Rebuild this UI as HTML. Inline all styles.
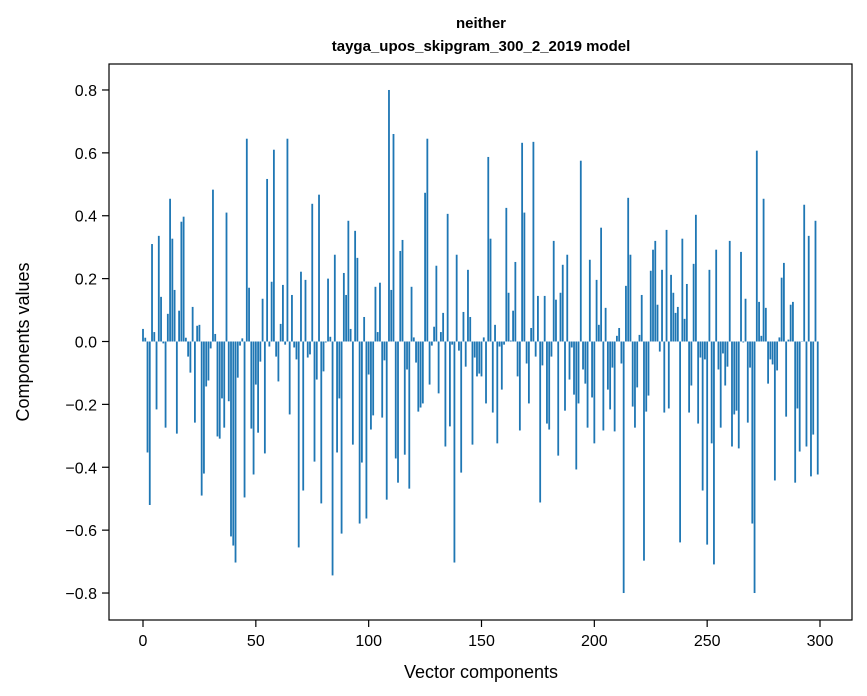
<!DOCTYPE html>
<html><head><meta charset="utf-8"><style>
body{margin:0;background:#fff;}
svg{display:block;font-family:"Liberation Sans","DejaVu Sans",sans-serif;}
</style></head><body>
<svg id="chart" width="867" height="696" viewBox="0 0 867 696">
<text x="481" y="28" text-anchor="middle" font-size="15" font-weight="bold">neither</text>
<text x="481" y="51" text-anchor="middle" font-size="15" font-weight="bold">tayga_upos_skipgram_300_2_2019 model</text>
<g id="bars"></g>
<g id="xticks"></g>
<g id="yticks"></g>
<rect x="109" y="64" width="743" height="556" fill="none" stroke="#000" stroke-width="1.2"/>
<text x="481" y="678" text-anchor="middle" font-size="18">Vector components</text>
<text transform="translate(29,342) rotate(-90)" text-anchor="middle" font-size="18">Components values</text>
</svg>
<script>
const values = [
0.04,0.012,-0.353,-0.52,0.31,0.03,-0.216,0.336,0.142,-0.006,
-0.274,0.088,0.454,0.327,0.164,-0.293,0.098,0.381,0.397,0.012,
-0.048,-0.099,0.11,-0.258,0.05,0.053,-0.49,-0.42,-0.143,-0.124,
-0.022,0.483,0.024,-0.302,-0.309,-0.181,-0.274,0.41,-0.19,-0.62,
-0.649,-0.703,-0.115,-0.013,0.01,-0.496,0.645,0.171,-0.277,-0.423,
-0.137,-0.29,-0.064,0.136,-0.356,0.517,-0.016,0.19,0.61,-0.048,
-0.127,0.056,0.18,-0.01,0.645,-0.232,0.148,-0.019,-0.057,-0.655,
0.222,-0.474,0.196,-0.051,-0.041,0.438,-0.382,-0.121,0.467,-0.515,
-0.095,-0.003,0.2,0.015,-0.744,0.276,-0.353,-0.181,-0.611,0.218,
0.148,0.384,0.04,-0.328,0.352,0.266,-0.579,-0.385,0.078,-0.563,
-0.105,-0.28,-0.235,0.174,0.03,0.187,-0.242,-0.06,-0.503,0.8,
0.164,0.66,-0.372,-0.449,0.288,0.323,-0.36,-0.089,-0.468,0.174,
0.013,-0.067,-0.223,-0.21,-0.197,0.473,0.645,-0.137,-0.013,0.047,
0.241,-0.165,0.03,0.091,-0.334,0.406,-0.27,-0.01,-0.703,0.276,
-0.029,-0.417,0.094,-0.08,0.228,0.078,-0.328,-0.051,-0.111,-0.102,
-0.111,0.013,-0.197,0.587,0.327,-0.226,0.053,-0.324,-0.016,-0.153,
-0.01,0.425,0.155,0.003,0.098,0.253,-0.111,-0.283,0.632,0.41,
-0.07,-0.197,0.043,0.635,-0.048,0.145,-0.512,-0.076,0.145,-0.261,
-0.28,-0.048,0.32,0.133,-0.363,0.155,0.244,-0.22,0.276,-0.121,
-0.019,-0.169,-0.407,-0.197,0.575,-0.089,-0.134,-0.274,0.26,-0.178,
-0.324,0.196,0.053,0.362,-0.283,0.107,-0.153,-0.216,-0.083,-0.286,
0.018,0.043,-0.07,-0.8,0.177,0.457,0.276,-0.207,-0.274,-0.146,
0.021,0.148,-0.697,-0.223,-0.172,0.225,0.292,0.32,0.117,-0.032,
0.228,-0.226,0.355,-0.213,0.212,0.155,0.091,0.11,-0.639,0.327,
0.072,0.183,-0.226,-0.14,0.247,0.403,-0.261,-0.051,-0.474,-0.057,
-0.646,0.228,-0.324,-0.709,0.292,-0.089,-0.274,-0.038,-0.14,-0.08,
0.32,-0.334,-0.232,-0.22,-0.34,0.285,-0.003,0.136,-0.258,-0.083,
-0.579,-0.8,0.607,0.126,0.018,0.454,0.107,-0.134,-0.057,-0.073,
-0.442,-0.092,0.013,0.203,0.25,-0.239,0.006,0.117,0.126,-0.449,
-0.213,-0.35,0.001,0.435,-0.334,0.336,-0.429,-0.296,0.384,-0.423
];
const xTicks = [0,50,100,150,200,250,300];
const yTicks = [-0.8,-0.6,-0.4,-0.2,0.0,0.2,0.4,0.6,0.8];
const yTickLabels = ["\u22120.8","\u22120.6","\u22120.4","\u22120.2","0.0","0.2","0.4","0.6","0.8"];

const NS = "http://www.w3.org/2000/svg";
function xScale(v){ return 143 + v * (820 - 143) / 300; }
function yScale(v){ return 341.5 - v * 314.4; }
const barsG = document.getElementById('bars');
const bw = 0.8 * (820 - 143) / 300;
values.forEach((v, i) => {
  const r = document.createElementNS(NS, 'rect');
  const y0 = yScale(0), y1 = yScale(v);
  r.setAttribute('x', xScale(i) - bw / 2);
  r.setAttribute('y', Math.min(y0, y1));
  r.setAttribute('width', bw);
  r.setAttribute('height', Math.max(Math.abs(y1 - y0), 0.01));
  r.setAttribute('fill', '#1f77b4');
  
  
  barsG.appendChild(r);
});
const xg = document.getElementById('xticks');
xTicks.forEach(t => {
  const x = xScale(t);
  const l = document.createElementNS(NS, 'line');
  l.setAttribute('x1', x); l.setAttribute('x2', x);
  l.setAttribute('y1', 620); l.setAttribute('y2', 627);
  l.setAttribute('stroke', '#000'); l.setAttribute('stroke-width', '1.2');
  
  
  xg.appendChild(l);
  const tx = document.createElementNS(NS, 'text');
  tx.setAttribute('x', x); tx.setAttribute('y', 646);
  tx.setAttribute('text-anchor', 'middle'); tx.setAttribute('font-size', '16');
  tx.textContent = t;
  
  
  xg.appendChild(tx);
});
const yg = document.getElementById('yticks');
yTicks.forEach((t, i) => {
  const y = yScale(t);
  const l = document.createElementNS(NS, 'line');
  l.setAttribute('x1', 102); l.setAttribute('x2', 109);
  l.setAttribute('y1', y); l.setAttribute('y2', y);
  l.setAttribute('stroke', '#000'); l.setAttribute('stroke-width', '1.2');
  
  
  yg.appendChild(l);
  const tx = document.createElementNS(NS, 'text');
  tx.setAttribute('x', 97); tx.setAttribute('y', y + 6);
  tx.setAttribute('text-anchor', 'end'); tx.setAttribute('font-size', '16');
  tx.textContent = yTickLabels[i];
  
  
  yg.appendChild(tx);
});
</script>
</body></html>
